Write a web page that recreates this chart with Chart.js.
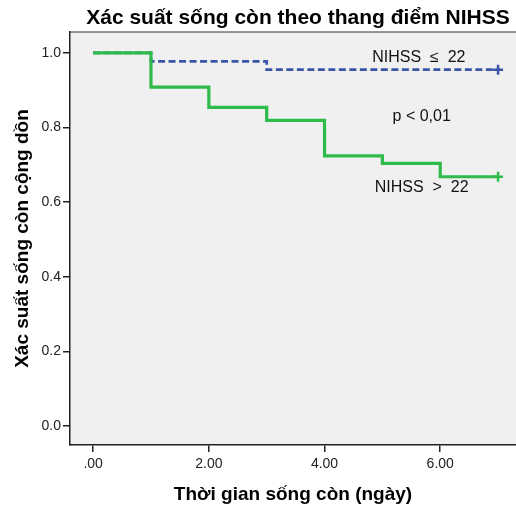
<!DOCTYPE html>
<html>
<head>
<meta charset="utf-8">
<script src="https://cdn.jsdelivr.net/npm/chart.js@4/dist/chart.umd.min.js"></script>
<style>
  html, body { margin: 0; padding: 0; background: #fff; }
  #wrap { width: 516px; height: 510px; }
</style>
</head>
<body>
<div id="wrap"><canvas id="km"></canvas></div>
<script>
// thời gian (ngày) và xác suất sống còn cộng dồn
const timeLow = [0, 1, 3, 7];
const survLow = [1.0, 0.977, 0.955, 0.955];
const timeHigh = [0, 1, 2, 3, 4, 5, 6, 7];
const survHigh = [1.0, 0.908, 0.854, 0.819, 0.724, 0.704, 0.668, 0.668];

const xTicks = [0, 2, 4, 6];
const yTicks = [0, 0.2, 0.4, 0.6, 0.8, 1.0];

const toPts = (xs, ys) => xs.map((x, i) => ({ x: x, y: ys[i] }));
const lastPt = (xs, ys) => [{ x: xs[xs.length - 1], y: ys[ys.length - 1] }];

const FONT = "'Liberation Sans', Arial, sans-serif";
const TITLE = "Xác suất sống còn theo thang điểm NIHSS";

// nền xám, khung trên, tiêu đề
const plotBg = {
  id: "plotBg",
  beforeDraw(chart) {
    const { ctx, chartArea: a } = chart;
    ctx.save();
    ctx.fillStyle = "#f0f0f0";
    ctx.fillRect(a.left, a.top, a.right - a.left, a.bottom - a.top);
    ctx.restore();
  },
  afterDraw(chart) {
    const { ctx, chartArea: a } = chart;
    ctx.save();
    ctx.strokeStyle = "#333";
    ctx.lineWidth = 1.2;
    ctx.beginPath();
    ctx.moveTo(a.left, a.top);
    ctx.lineTo(a.right, a.top);
    ctx.stroke();
    ctx.fillStyle = "#000";
    ctx.font = "bold 21px " + FONT;
    ctx.textAlign = "center";
    ctx.textBaseline = "middle";
    ctx.fillText(TITLE, 298, 18);
    ctx.restore();
  }
};

// chú thích trong vùng vẽ
const notes = {
  id: "notes",
  afterDatasetsDraw(chart) {
    const { ctx } = chart;
    const xs = chart.scales.x, ys = chart.scales.y;
    ctx.save();
    ctx.fillStyle = "#111";
    ctx.font = "16px " + FONT;
    ctx.textAlign = "center";
    ctx.textBaseline = "middle";
    ctx.fillText("NIHSS  \u2264  22", xs.getPixelForValue(5.63), ys.getPixelForValue(0.988));
    ctx.fillText("p < 0,01", xs.getPixelForValue(5.68), ys.getPixelForValue(0.829));
    ctx.fillText("NIHSS  >  22", xs.getPixelForValue(5.68), ys.getPixelForValue(0.640));
    ctx.restore();
  }
};

new Chart(document.getElementById("km"), {
  type: "line",
  data: {
    datasets: [
      {
        label: "NIHSS \u2264 22",
        data: toPts(timeLow, survLow),
        borderColor: "#3a55a8",
        borderWidth: 2.8,
        borderDash: [7, 3.5],
        stepped: "before",
        pointRadius: 0,
        fill: false,
        order: 2
      },
      {
        label: "NIHSS > 22",
        data: toPts(timeHigh, survHigh),
        borderColor: "#2fbb4a",
        borderWidth: 3.2,
        stepped: "before",
        pointRadius: 0,
        fill: false,
        order: 1
      },
      {
        type: "scatter",
        data: lastPt(timeLow, survLow),
        pointStyle: "cross",
        pointRadius: 5,
        borderColor: "#3a55a8",
        borderWidth: 2.5,
        order: 0
      },
      {
        type: "scatter",
        data: lastPt(timeHigh, survHigh),
        pointStyle: "cross",
        pointRadius: 5,
        borderColor: "#2fbb4a",
        borderWidth: 2.5,
        order: 0
      }
    ]
  },
  options: {
    responsive: true,
    maintainAspectRatio: false,
    animation: false,
    layout: { autoPadding: false, padding: { left: 0, right: 0, top: 32, bottom: 0 } },
    plugins: {
      legend: { display: false },
      tooltip: { enabled: false },
      title: { display: false }
    },
    scales: {
      x: {
        type: "linear",
        min: -0.4,
        max: 7.31,
        afterBuildTicks: (s) => { s.ticks = xTicks.map(v => ({ value: v })); },
        ticks: {
          color: "#222",
          font: { family: FONT, size: 14 },
          padding: 4,
          maxRotation: 0,
          callback: (v) => (v === 0 ? ".00" : v.toFixed(2))
        },
        grid: { drawOnChartArea: false, drawTicks: true, tickLength: 7, color: "#222", lineWidth: 1.5 },
        border: { display: true, color: "#222", width: 1.5 },
        title: {
          display: true,
          text: "Thời gian sống còn (ngày)",
          color: "#000",
          font: { family: FONT, size: 19, weight: "bold" },
          padding: { top: 10, bottom: 4 }
        },
        afterFit: (s) => { s.height = 65; }
      },
      y: {
        type: "linear",
        min: -0.051,
        max: 1.056,
        afterBuildTicks: (s) => { s.ticks = yTicks.map(v => ({ value: v })); },
        ticks: {
          color: "#222",
          font: { family: FONT, size: 14 },
          padding: 2,
          callback: (v) => v.toFixed(1)
        },
        grid: { drawOnChartArea: false, drawTicks: true, tickLength: 7, color: "#222", lineWidth: 1.5 },
        border: { display: true, color: "#222", width: 1.5 },
        title: {
          display: true,
          text: "Xác suất sống còn cộng dồn",
          color: "#000",
          font: { family: FONT, size: 19, weight: "bold" },
          padding: { top: 11, bottom: 8 }
        },
        afterFit: (s) => { s.width = 70; }
      }
    }
  },
  plugins: [plotBg, notes]
});
</script>
</body>
</html>
